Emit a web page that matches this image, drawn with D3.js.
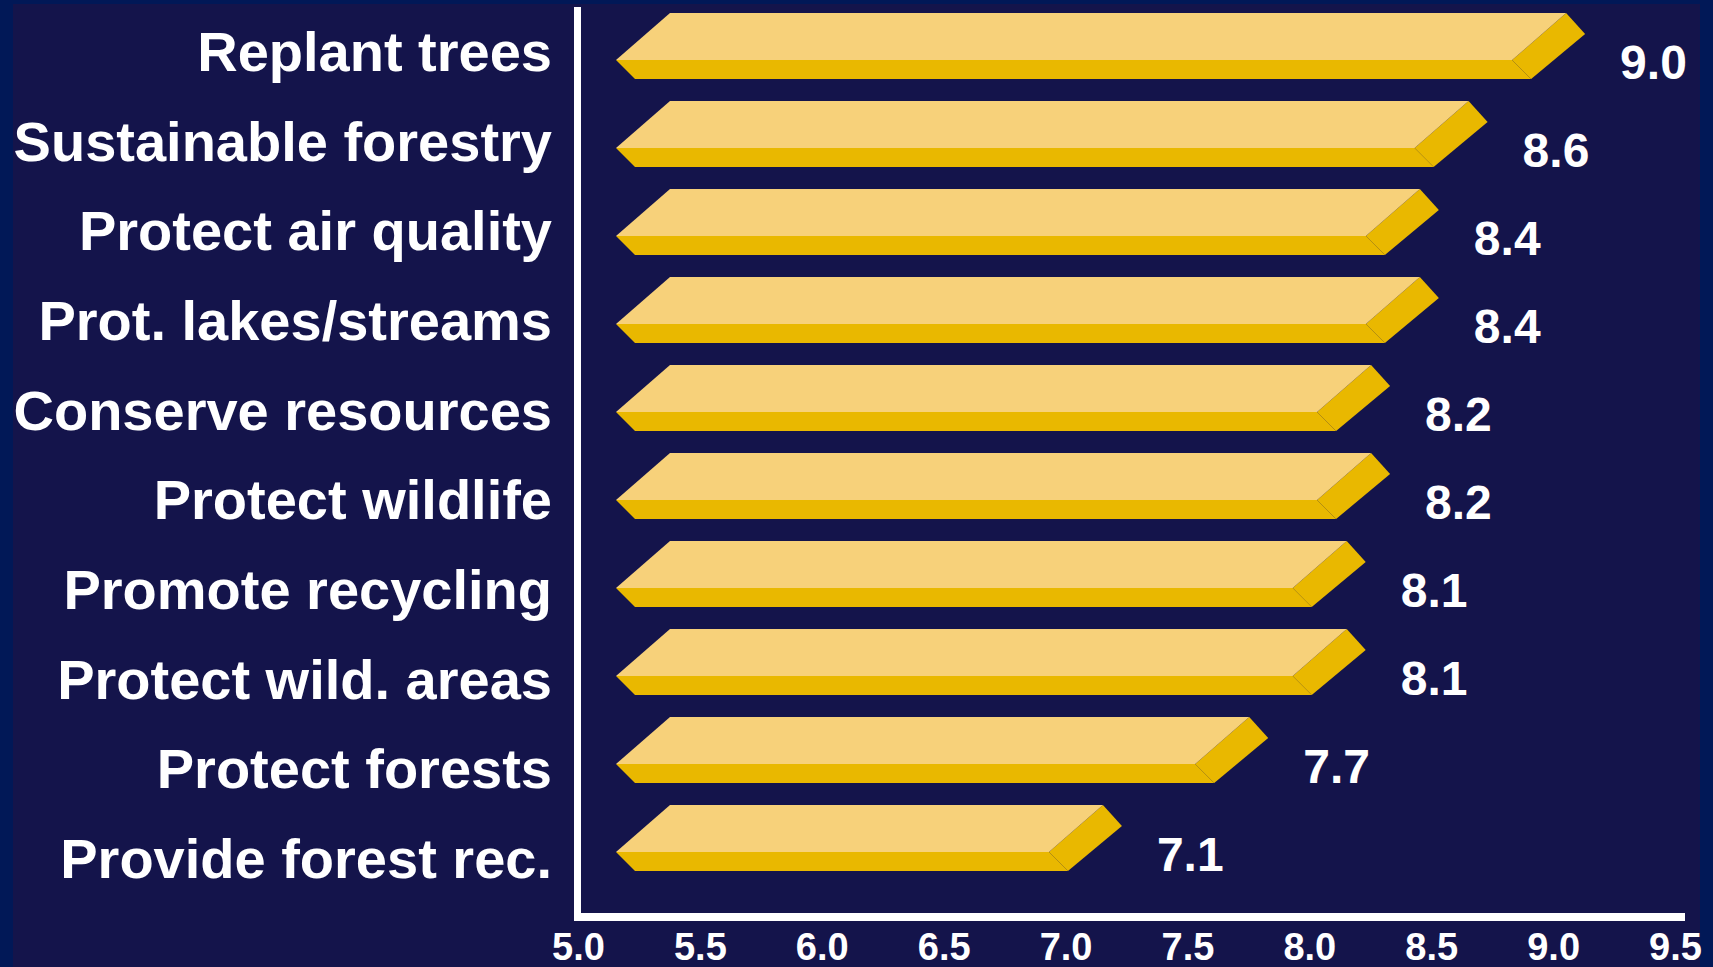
<!DOCTYPE html>
<html>
<head>
<meta charset="utf-8">
<script src="https://cdn.jsdelivr.net/npm/d3@7"></script>
<style>
  html, body { margin: 0; padding: 0; background: #011857; }
  svg { display: block; }
  text { font-family: "Liberation Sans", Arial, sans-serif; font-weight: bold; fill: #ffffff; }
</style>
</head>
<body>
<svg id="chart" width="1713" height="967"></svg>
<script>
// ---- data ----
const categories = [
  "Replant trees",
  "Sustainable forestry",
  "Protect air quality",
  "Prot. lakes/streams",
  "Conserve resources",
  "Protect wildlife",
  "Promote recycling",
  "Protect wild. areas",
  "Protect forests",
  "Provide forest rec."
];
const values = [9.0, 8.6, 8.4, 8.4, 8.2, 8.2, 8.1, 8.1, 7.7, 7.1];
const tickValues = [5.0, 5.5, 6.0, 6.5, 7.0, 7.5, 8.0, 8.5, 9.0, 9.5];

// ---- layout ----
const W = 1713, H = 967;
const svg = d3.select("#chart");
const colors = { outer: "#011857", inner: "#14144b", top: "#f7d17a", side: "#e9b800", axis: "#ffffff" };

svg.append("rect").attr("width", W).attr("height", H).attr("fill", colors.outer);
svg.append("defs").append("clipPath").attr("id", "inner")
  .append("rect").attr("x", 13).attr("y", 4).attr("width", 1687).attr("height", H - 4);
svg.append("rect").attr("x", 13).attr("y", 4).attr("width", 1687).attr("height", H - 4).attr("fill", colors.inner);

const g = svg.append("g").attr("clip-path", "url(#inner)");

const x = d3.scaleLinear().domain([5.0, 9.5]).range([578, 1675]);
const y = d3.scaleBand().domain(categories).range([13, 893]).paddingInner(0);
const yLabel = d3.scalePoint().domain(categories).range([51, 858]);

// bar geometry (pseudo-3D box)
const LEFT = 616;       // left tip of bar front edge
const DEPTH = [54, 47]; // depth vector (dx, -dy)
const FRONT = [19, 19]; // front face vector (dx, dy)
const END_OFF = 13;     // offset from value position to back-right corner

const bars = g.append("g").selectAll("g.bar")
  .data(categories.map((c, i) => ({ c, v: values[i] })))
  .join("g").attr("class", "bar");

function pts(arr) { return arr.map(p => p.join(",")).join(" "); }

bars.each(function(d) {
  const T = y(d.c);
  const xb = x(d.v) + END_OFF;              // back-right top corner
  const P = [LEFT, T + DEPTH[1]];           // front-left top
  const Q = [xb - DEPTH[0], T + DEPTH[1]];  // front-right top
  const sel = d3.select(this);
  // front face
  sel.append("polygon").attr("fill", colors.side).attr("points", pts([
    P, Q, [Q[0] + FRONT[0], Q[1] + FRONT[1]], [P[0] + FRONT[0], P[1] + FRONT[1]]
  ]));
  // right end face
  sel.append("polygon").attr("fill", colors.side).attr("points", pts([
    Q, [xb, T], [xb + FRONT[0], T + FRONT[1] + 2], [Q[0] + FRONT[0], Q[1] + FRONT[1]]
  ]));
  // top face
  sel.append("polygon").attr("fill", colors.top).attr("points", pts([
    P, [LEFT + DEPTH[0], T], [xb, T], Q
  ]));
  // value label
  sel.append("text")
    .attr("x", xb + 54)
    .attr("y", T + 66)
    .attr("font-size", 48)
    .text(d3.format(".1f")(d.v));
});

// category labels
g.append("g").selectAll("text")
  .data(categories)
  .join("text")
  .attr("x", 552)
  .attr("y", d => yLabel(d) + 20)
  .attr("text-anchor", "end")
  .attr("font-size", 56)
  .text(d => d);

// axis lines
g.append("rect").attr("x", x(5.0) - 4).attr("y", 7).attr("width", 7).attr("height", 914).attr("fill", colors.axis);
g.append("rect").attr("x", x(5.0) - 4).attr("y", 913).attr("width", x(9.5) + 10 - (x(5.0) - 4)).attr("height", 8).attr("fill", colors.axis);

// x axis tick labels
const axis = d3.axisBottom(x).tickValues(tickValues).tickSize(0).tickPadding(12).tickFormat(d3.format(".1f"));
const ax = svg.append("g").attr("transform", "translate(0,921)").call(axis);
ax.select(".domain").remove();
ax.selectAll("text")
  .attr("font-size", 38)
  .attr("fill", "#ffffff")
  .style("font-family", "'Liberation Sans', Arial, sans-serif")
  .style("font-weight", "bold");
</script>
</body>
</html>
